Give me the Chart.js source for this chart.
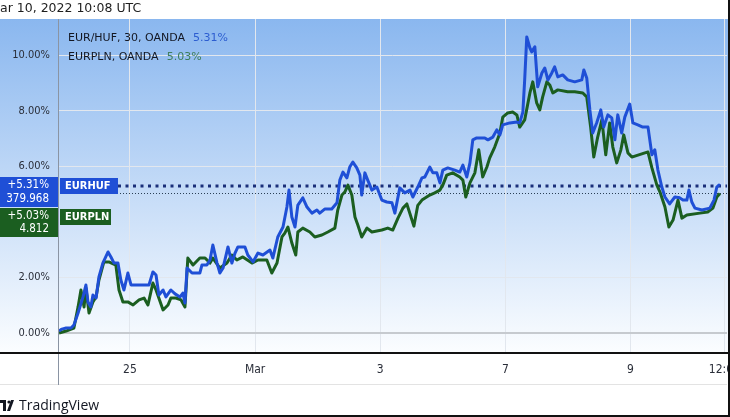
<!DOCTYPE html>
<html>
<head>
<meta charset="utf-8">
<script src="https://cdn.jsdelivr.net/npm/chart.js@4/dist/chart.umd.min.js"></script>
<style>
  html, body { margin: 0; padding: 0; background: #fff; overflow: hidden; }
  canvas { display: block; }
</style>
</head>
<body>
<canvas id="chart" width="730" height="417"></canvas>
<script>
// ---- Data: % change since start, time in trading hours from Feb 25 00:00 UTC ----
const hufTime = [-27.2,-26.1,-24.5,-22.6,-21.5,-19.9,-18.0,-16.9,-16.1,-15.0,
  -14.2,-13.0,-11.9,-10.4,-8.4,-7.3,-6.1,-4.6,-3.5,-2.3,
  -0.8,0.4,2.3,6.1,7.3,8.8,10.0,11.1,12.7,13.8,
  15.7,17.3,19.2,20.3,21.1,21.9,23.8,26.8,27.6,29.5,
  30.7,31.8,33.4,34.5,35.7,37.6,39.1,40.3,41.4,44.1,
  45.2,47.2,49.1,51.0,53.7,54.8,56.7,58.7,60.2,61.0,
  62.1,63.3,64.4,66.3,67.9,69.8,71.7,72.8,74.8,77.4,
  79.4,80.5,81.7,83.2,84.3,85.5,87.0,88.2,88.9,90.1,
  91.2,92.8,94.7,96.6,98.5,100.5,101.6,103.5,105.4,107.4,
  108.5,110.4,112.0,113.1,115.0,116.2,117.7,118.9,120.0,121.9,
  124.6,126.5,127.7,129.2,130.4,131.5,133.0,136.1,137.3,139.2,
  140.7,141.9,143.0,145.7,148.4,149.5,150.7,151.4,152.2,153.4,
  154.1,155.3,156.4,158.0,159.1,160.3,161.8,162.9,164.1,166.0,
  167.9,170.6,173.3,174.1,175.2,176.4,177.5,179.0,180.6,181.7,
  183.3,184.8,186.0,187.1,188.6,189.8,191.7,192.9,194.8,196.7,
  198.7,200.2,201.3,202.5,204.0,205.2,207.0,209.0,210.9,212.1,
  213.6,214.4,215.5,216.7,219.4,222.4,224.0,225.1,225.9,226.3];
const hufChange = [0.07,0.14,0.18,0.18,0.29,0.72,1.30,1.73,1.12,0.94,
  1.37,1.26,2.02,2.52,2.92,2.74,2.52,2.52,1.91,1.55,
  2.16,1.73,1.73,1.73,1.73,2.20,2.09,1.37,1.55,1.30,
  1.55,1.41,1.30,1.44,1.08,2.34,2.16,2.16,2.45,2.45,
  2.63,3.17,2.52,2.16,2.34,3.10,2.52,2.88,3.10,3.10,
  2.81,2.56,2.88,2.81,2.99,2.70,3.46,3.82,4.54,5.15,
  4.18,3.82,4.61,4.87,4.54,4.32,4.43,4.32,4.47,4.47,
  4.69,5.51,5.80,5.59,5.98,6.16,5.95,5.69,4.97,5.77,
  5.51,5.15,5.26,4.79,4.72,4.69,4.32,5.23,5.05,5.15,
  4.90,5.26,5.59,5.62,5.98,5.77,5.77,5.41,5.87,5.95,
  5.87,5.80,6.05,5.62,6.13,6.96,7.03,7.03,6.96,7.06,
  7.32,7.14,7.50,7.57,7.60,7.57,7.96,9.12,10.67,10.27,
  10.13,10.31,8.87,9.37,9.55,9.12,9.37,9.59,9.23,9.30,
  9.12,9.05,9.12,9.48,9.19,8.04,7.21,7.57,8.04,7.42,
  7.86,7.75,6.96,7.86,7.21,7.78,8.25,7.57,7.50,7.42,
  7.42,6.42,6.60,5.87,5.26,4.90,4.65,4.90,4.87,4.79,
  4.79,5.15,4.72,4.50,4.43,4.50,4.79,5.26,5.33,5.31];

const plnTime = [-27.2,-24.5,-21.5,-19.9,-18.8,-17.6,-16.9,-15.7,-14.2,-13.0,
  -11.9,-10.0,-8.1,-5.4,-4.2,-2.7,-0.8,1.2,3.5,5.4,
  6.9,8.8,10.0,12.7,14.6,15.7,17.6,19.6,21.1,22.2,
  24.2,26.8,28.8,30.7,31.8,34.5,37.2,39.1,41.0,43.3,
  46.8,49.1,52.5,54.4,56.4,58.3,59.4,60.6,62.1,63.6,
  64.4,66.3,69.0,70.9,73.6,75.9,78.6,79.7,81.3,82.4,
  83.6,85.1,86.3,87.4,88.9,90.9,92.8,96.6,98.9,100.8,
  102.8,104.7,106.2,107.4,108.9,110.4,112.0,115.0,116.9,118.9,
  120.0,121.5,123.8,126.5,127.7,128.8,130.4,132.3,133.8,135.3,
  136.9,138.0,139.9,141.9,143.0,144.9,146.8,148.4,149.5,151.4,
  153.4,154.5,156.0,157.2,158.3,159.9,161.0,162.2,164.1,167.9,
  170.6,173.7,175.2,176.7,177.9,179.4,181.0,182.5,184.0,185.2,
  186.7,188.3,189.4,191.0,192.5,197.5,198.7,200.2,202.1,203.3,
  205.2,206.7,208.3,210.2,211.7,213.6,218.6,221.6,223.6,225.1,
  226.3];
const plnChange = [0.00,0.07,0.18,0.94,1.55,0.94,1.62,0.72,1.12,1.30,
  1.91,2.56,2.56,2.45,1.55,1.12,1.12,1.01,1.19,1.26,
  1.01,1.80,1.55,0.83,1.01,1.26,1.26,1.19,0.94,2.70,
  2.45,2.70,2.70,2.52,2.70,2.34,2.52,2.81,2.63,2.74,
  2.52,2.63,2.63,2.16,2.52,3.46,3.60,3.82,3.24,2.81,
  3.64,3.78,3.64,3.46,3.53,3.64,3.78,4.43,4.97,5.08,
  5.33,4.97,4.18,3.89,3.46,3.78,3.64,3.71,3.78,3.71,
  4.14,4.50,4.65,4.30,3.85,4.60,4.79,4.97,5.05,5.15,
  5.33,5.69,5.77,5.62,5.51,4.90,5.41,5.77,6.60,5.62,
  5.98,6.31,6.70,7.21,7.78,7.93,7.96,7.86,7.42,7.68,
  8.65,9.05,8.29,8.04,8.51,9.05,8.94,8.65,8.76,8.69,
  8.69,8.65,8.51,7.42,6.34,7.06,7.68,6.42,7.57,6.70,
  6.13,6.60,7.14,6.49,6.34,6.49,6.52,5.95,5.33,5.08,
  4.54,3.82,4.07,4.79,4.14,4.25,4.32,4.36,4.50,4.90,
  5.03];

const hufLast = 5.31, hufPrice = "379.968";
const plnLast = 5.03, plnPrice = "4.812";

const yTicks = [0, 2, 4, 6, 8, 10];
const xTickTimes = [0, 48, 96, 144, 192, 228];
const xTickLabels = ["25", "Mar", "3", "7", "9", "12:00"];

// ---- Style ----
const BLUE = "#1f4fd6";
const GREEN = "#1b5e20";
const GRID = "#e2e7ee";
const TXT = "#2a2e39";
const FONT = '"DejaVu Sans", sans-serif';
const NARROW = '"DejaVu Sans Condensed", "DejaVu Sans", sans-serif';

function fmtPct(v) { return (v >= 0 ? "+" : "") + v.toFixed(2) + "%"; }

// ---- Plugins ----
const backdrop = {
  id: "backdrop",
  beforeDraw(chart) {
    const c = chart.ctx;
    const area = chart.chartArea;
    c.save();
    c.fillStyle = "#fff";
    c.fillRect(0, 0, chart.width, chart.height);
    const g = c.createLinearGradient(0, area.top, 0, area.bottom);
    g.addColorStop(0, "#8ab7ef");
    g.addColorStop(1, "#fbfdff");
    c.fillStyle = g;
    c.fillRect(0, area.top, area.right + 1, area.bottom - area.top);
    c.restore();
  },
  beforeDatasetsDraw(chart) {
    const c = chart.ctx;
    const area = chart.chartArea;
    const y = chart.scales.y;
    c.save();
    // price lines
    c.strokeStyle = "#1a2f7a";
    c.lineWidth = 3;
    c.setLineDash([3, 4.5]);
    c.beginPath();
    const yh = Math.round(y.getPixelForValue(hufLast));
    c.moveTo(area.left + 60, yh);
    c.lineTo(area.right, yh);
    c.stroke();
    c.strokeStyle = "#2b3f55";
    c.lineWidth = 1;
    c.setLineDash([1, 2]);
    c.beginPath();
    const yp = Math.round(y.getPixelForValue(plnLast)) + 0.5;
    c.moveTo(area.left + 53, yp);
    c.lineTo(area.right, yp);
    c.stroke();
    c.restore();
  },
  afterDraw(chart) {
    const c = chart.ctx;
    const area = chart.chartArea;
    const y = chart.scales.y;
    c.save();

    // frame lines
    c.fillStyle = "#e3e3e3";
    c.fillRect(0, 384, area.right, 1);
    c.fillStyle = "#8a94a3";
    c.fillRect(area.left, area.top, 1, 385 - area.top);
    c.fillStyle = "#111";
    c.fillRect(0, area.bottom, area.right + 1, 2);
    c.fillRect(728, 0, 2, chart.height);
    c.fillRect(0, 415, chart.width, 2);

    // header
    c.fillStyle = "#1e1e1e";
    c.font = "12.5px " + FONT;
    c.textBaseline = "middle";
    c.textAlign = "left";
    c.fillText("ar 10, 2022 10:08 UTC", 0, 9);

    // legend
    c.font = "11px " + FONT;
    c.fillStyle = "#131722";
    c.fillText("EUR/HUF, 30, OANDA", 68, 38);
    let w = c.measureText("EUR/HUF, 30, OANDA").width;
    c.fillStyle = "#2c5dd0";
    c.fillText(hufLast.toFixed(2) + "%", 68 + w + 8, 38);
    c.fillStyle = "#131722";
    c.fillText("EURPLN, OANDA", 68, 57);
    w = c.measureText("EURPLN, OANDA").width;
    c.fillStyle = "#3f7d5c";
    c.fillText(plnLast.toFixed(2) + "%", 68 + w + 8, 57);

    // left price boxes
    const yh = Math.round(y.getPixelForValue(hufLast));
    const top1 = yh - 9;
    c.fillStyle = BLUE;
    c.fillRect(0, top1, area.left, 30);
    const top2 = top1 + 31;
    c.fillStyle = GREEN;
    c.fillRect(0, top2, area.left, 29);
    c.fillStyle = "#fff";
    c.font = "11.5px " + NARROW;
    c.textAlign = "right";
    c.fillText(fmtPct(hufLast), 49, top1 + 8);
    c.fillText(hufPrice, 49, top1 + 22);
    c.fillText(fmtPct(plnLast), 49, top2 + 8);
    c.fillText(plnPrice, 49, top2 + 21);

    // in-plot series tags
    c.font = "bold 11px " + NARROW;
    c.textAlign = "left";
    c.fillStyle = BLUE;
    c.fillRect(area.left + 2, yh - 8, 58, 16);
    c.fillStyle = GREEN;
    c.fillRect(area.left + 2, top2 + 1, 51, 16);
    c.fillStyle = "#fff";
    c.fillText("EURHUF", area.left + 7, yh + 0.5);
    c.fillText("EURPLN", area.left + 7, top2 + 9.5);

    // TradingView mark
    c.fillStyle = "#131722";
    c.fillRect(0, 400, 6, 3);
    c.fillRect(3, 400, 3, 11);
    c.beginPath();
    c.arc(9, 402, 1.6, 0, Math.PI * 2);
    c.fill();
    c.beginPath();
    c.moveTo(11, 400); c.lineTo(14, 400); c.lineTo(10, 411); c.lineTo(7, 411);
    c.closePath();
    c.fill();
    c.font = '14px "Open Sans", sans-serif';
    c.textAlign = "left";
    c.fillText("TradingView", 19, 406);
    c.restore();
  }
};

// ---- Chart ----
const ctx = document.getElementById("chart").getContext("2d");

new Chart(ctx, {
  type: "line",
  data: {
    datasets: [
      {
        label: "EUR/HUF",
        data: hufTime.map((t, i) => ({ x: t, y: hufChange[i] })),
        borderColor: BLUE,
        borderWidth: 3,
        pointRadius: 0,
        tension: 0,
        borderJoinStyle: "round",
        order: 0
      },
      {
        label: "EURPLN",
        data: plnTime.map((t, i) => ({ x: t, y: plnChange[i] })),
        borderColor: GREEN,
        borderWidth: 3,
        pointRadius: 0,
        tension: 0,
        borderJoinStyle: "round",
        order: 1
      }
    ]
  },
  options: {
    responsive: false,
    animation: false,
    devicePixelRatio: 1,
    layout: { padding: { top: 19, right: 3, left: 0, bottom: 0 } },
    plugins: { legend: { display: false }, tooltip: { enabled: false } },
    scales: {
      x: {
        type: "linear",
        min: -27.6,
        max: 229.0,
        afterBuildTicks: s => { s.ticks = xTickTimes.map(v => ({ value: v })); },
        afterFit: s => { s.height = 65; s.paddingLeft = 0; s.paddingRight = 0; },
        ticks: {
          autoSkip: false,
          maxRotation: 0,
          padding: 11,
          color: TXT,
          font: { family: NARROW, size: 12 },
          callback: v => xTickLabels[xTickTimes.indexOf(v)]
        },
        grid: { color: GRID, drawTicks: false },
        border: { display: false }
      },
      y: {
        min: -0.685,
        max: 11.315,
        afterBuildTicks: s => { s.ticks = yTicks.map(v => ({ value: v })); },
        afterFit: s => { s.width = 58; s.paddingTop = 0; s.paddingBottom = 0; },
        ticks: {
          padding: 8,
          color: TXT,
          font: { family: NARROW, size: 11 },
          callback: v => v.toFixed(2) + "%"
        },
        grid: {
          drawTicks: false,
          color: c => c.tick.value === 0 ? "#c6cacf" : (c.tick.value === 4 ? "rgba(0,0,0,0)" : GRID),
          lineWidth: c => c.tick.value === 0 ? 2 : 1
        },
        border: { display: false }
      }
    }
  },
  plugins: [backdrop]
});
</script>
</body>
</html>
